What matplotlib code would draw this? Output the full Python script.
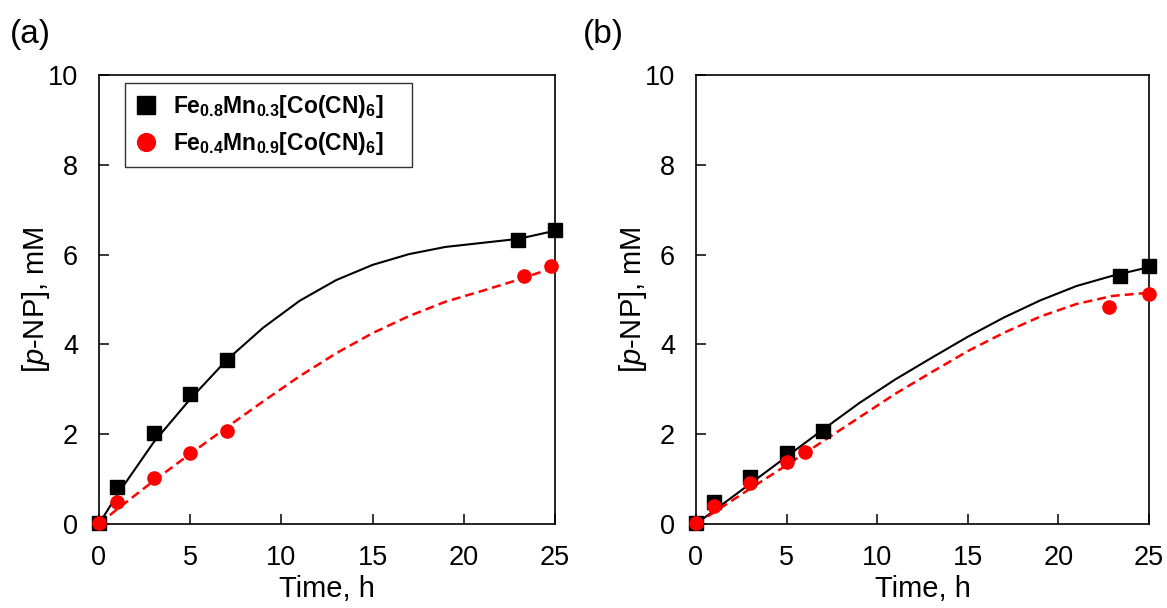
import matplotlib
matplotlib.use("Agg")
import matplotlib.pyplot as plt

plt.rcParams["font.family"] = ["Liberation Sans", "DejaVu Sans"]
plt.rcParams["mathtext.fontset"] = "custom"
plt.rcParams["mathtext.rm"] = "Liberation Sans"
plt.rcParams["mathtext.it"] = "Liberation Sans:italic"
plt.rcParams["mathtext.bf"] = "Liberation Sans:bold"

# ── measured points ─────────────────────────────────────────────
a_t_black = [0, 1, 3, 5, 7, 23, 25]
a_y_black = [0.03, 0.83, 2.02, 2.9, 3.65, 6.32, 6.54]
a_t_red = [0, 1, 3, 5, 7, 23.3, 24.8]
a_y_red = [0.03, 0.48, 1.03, 1.57, 2.06, 5.52, 5.74]

b_t_black = [0, 1, 3, 5, 7, 23.4, 25]
b_y_black = [0.03, 0.5, 1.05, 1.59, 2.08, 5.52, 5.74]
b_t_red = [0, 1, 3, 5, 6, 22.8, 25]
b_y_red = [0.03, 0.39, 0.92, 1.38, 1.61, 4.83, 5.13]

# ── trend curves ────────────────────────────────────────────────
fit_t = [0, 1, 3, 5, 7, 9, 11, 13, 15, 17, 19, 21, 23, 25]
a_fit_black = [0, 0.65, 1.82, 2.78, 3.65, 4.37, 4.97, 5.43, 5.77, 6.01, 6.17, 6.26, 6.35, 6.53]
a_fit_red = [0, 0.33, 0.96, 1.56, 2.15, 2.73, 3.29, 3.8, 4.25, 4.63, 4.95, 5.19, 5.44, 5.72]
b_fit_black = [0, 0.3, 0.9, 1.5, 2.1, 2.69, 3.22, 3.7, 4.17, 4.6, 4.98, 5.3, 5.53, 5.72]
b_fit_red = [0, 0.26, 0.79, 1.31, 1.84, 2.37, 2.9, 3.38, 3.85, 4.26, 4.62, 4.9, 5.08, 5.15]

label_black = r"$\mathbf{Fe_{0.8}Mn_{0.3}[Co(CN)_6]}$"
label_red = r"$\mathbf{Fe_{0.4}Mn_{0.9}[Co(CN)_6]}$"

fig = plt.figure(figsize=(11.67, 6.08), dpi=100)
ax_a = fig.add_axes([0.0848, 0.1382, 0.3907, 0.7385])
ax_b = fig.add_axes([0.5964, 0.1382, 0.3882, 0.7385])


def draw_panel(ax, t_k, y_k, t_r, y_r, fy_k, fy_r):
    ax.plot(fit_t, fy_k, color="black", lw=1.5, zorder=2)
    ax.plot(fit_t, fy_r, color="red", lw=1.8, ls=(0, (3.6, 2.0)), zorder=2)
    ax.plot(t_k, y_k, ls="none", marker="s", ms=10, color="black",
            clip_on=False, zorder=3, label=label_black)
    ax.plot(t_r, y_r, ls="none", marker="o", ms=9.5, color="red",
            clip_on=False, zorder=3, label=label_red)
    ax.set_xlim(0, 25)
    ax.set_ylim(0, 10)
    ax.set_xticks([0, 5, 10, 15, 20, 25])
    ax.set_yticks([0, 2, 4, 6, 8, 10])
    ax.tick_params(direction="in", length=7, width=1.1, labelsize=19.5,
                   pad=15, colors="black")
    for s in ax.spines.values():
        s.set_linewidth(1.2)
        s.set_color("black")
    ax.set_xlabel("Time, h", fontsize=21)
    ax.set_ylabel(r"[$\it{p}$-NP], mM", fontsize=21)
    ax.xaxis.set_label_coords(0.5, -0.113)
    ax.yaxis.set_label_coords(-0.103, 0.5)


draw_panel(ax_a, a_t_black, a_y_black, a_t_red, a_y_red, a_fit_black, a_fit_red)
draw_panel(ax_b, b_t_black, b_y_black, b_t_red, b_y_red, b_fit_black, b_fit_red)

# legend box stretched to the width of the original frame
leg = ax_a.legend(loc="upper left", bbox_to_anchor=(0.057, 0.5, 0.629, 0.482),
                  mode="expand", borderaxespad=0, fontsize=16.5,
                  markerscale=1.35, handlelength=0.9, handletextpad=0.75,
                  labelspacing=0.42, fancybox=False, framealpha=1,
                  edgecolor="#333333", borderpad=0.45)
leg.get_frame().set_linewidth(1.0)

fig.text(0.0086, 0.944, "(a)", fontsize=24, va="center", ha="left")
fig.text(0.4996, 0.944, "(b)", fontsize=24, va="center", ha="left")

fig.savefig("out.png", dpi=100)
